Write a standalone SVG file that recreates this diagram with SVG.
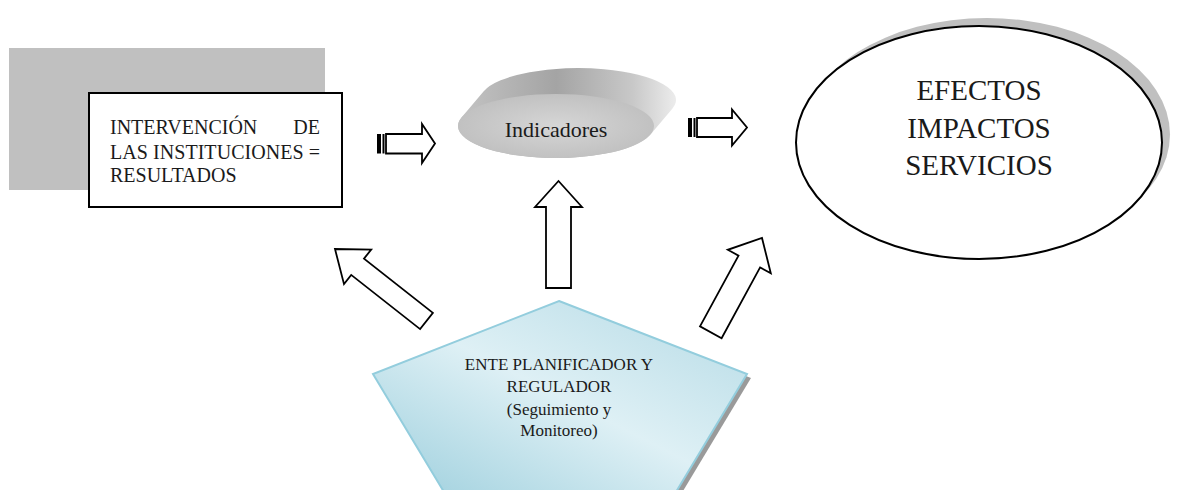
<svg xmlns="http://www.w3.org/2000/svg" width="1179" height="490" viewBox="0 0 1179 490">
  <defs>
    <radialGradient id="gFront" cx="0.5" cy="0.5" r="0.6">
      <stop offset="0" stop-color="#d6d6d6"/>
      <stop offset="1" stop-color="#bdbdbd"/>
    </radialGradient>
    <linearGradient id="gBack" x1="0" y1="0" x2="1" y2="0">
      <stop offset="0" stop-color="#c4c4c4"/>
      <stop offset="0.45" stop-color="#a4a4a4"/>
      <stop offset="0.8" stop-color="#c8c8c8"/>
      <stop offset="1" stop-color="#ececec"/>
    </linearGradient>
    <linearGradient id="gPent" x1="0" y1="1" x2="1" y2="0">
      <stop offset="0" stop-color="#9dcfdd"/>
      <stop offset="0.5" stop-color="#def0f5"/>
      <stop offset="1" stop-color="#b4dae5"/>
    </linearGradient>
    <style>
      .serif { font-family: "Liberation Serif", "DejaVu Serif", serif; fill: #1a1a1a; }
      .arrow { fill: #ffffff; stroke: #000000; stroke-width: 1.8; stroke-linejoin: miter; }
      .bar { fill: #000000; }
    </style>
  </defs>

  <g id="node-intervencion">
    <rect x="9" y="48" width="316" height="142" fill="#c0c0c0"/>
    <rect x="89" y="93" width="253" height="114" fill="#ffffff" stroke="#000000" stroke-width="2"/>
    <text class="serif" font-size="20" x="110" y="134">INTERVENCIÓN</text>
    <text class="serif" font-size="20" x="320" y="134" text-anchor="end">DE</text>
    <text class="serif" font-size="20" x="110" y="159" textLength="210" lengthAdjust="spacing">LAS INSTITUCIONES =</text>
    <text class="serif" font-size="20" x="110" y="182">RESULTADOS</text>
  </g>

  <g id="node-indicadores">
    <path d="M461.5,117.5 L483.5,91.5 A98,32 0 0 1 672.5,108.5 L650.5,134.5 A98,32 0 0 1 461.5,117.5 Z" fill="url(#gBack)"/>
    <ellipse cx="556" cy="126" rx="98" ry="32" fill="url(#gFront)"/>
    <text class="serif" font-size="22" x="556" y="137" text-anchor="middle" fill="#2a2a2a">Indicadores</text>
  </g>

  <g id="node-efectos">
    <ellipse cx="987" cy="134.5" rx="183" ry="116.5" fill="#c0c0c0"/>
    <ellipse cx="979" cy="142.5" rx="183" ry="116.5" fill="#ffffff" stroke="#000000" stroke-width="2"/>
    <text class="serif" font-size="29" x="979" y="100" text-anchor="middle">EFECTOS</text>
    <text class="serif" font-size="29" x="979" y="138" text-anchor="middle">IMPACTOS</text>
    <text class="serif" font-size="29" x="979" y="175" text-anchor="middle">SERVICIOS</text>
  </g>

  <g id="node-ente">
    <polygon points="562,305 751,378 680,496 447,496 376,378" fill="#9a9a9a"/>
    <polygon points="559,301 747,374 676,492 444,492 373,374" fill="url(#gPent)" stroke="#93cddd" stroke-width="2"/>
    <text class="serif" font-size="17" x="559" y="370" text-anchor="middle">ENTE PLANIFICADOR Y</text>
    <text class="serif" font-size="17" x="559" y="392" text-anchor="middle">REGULADOR</text>
    <text class="serif" font-size="17" x="559" y="415" text-anchor="middle">(Seguimiento y</text>
    <text class="serif" font-size="17" x="559" y="436" text-anchor="middle">Monitoreo)</text>
  </g>

  <g id="connectors">
    <rect class="bar" x="377" y="134" width="4" height="19.5"/>
    <rect class="bar" x="382.5" y="134" width="2" height="19.5"/>
    <polygon class="arrow" points="386,134 422,134 422,124 435,143.5 422,163 422,153.5 386,153.5"/>
    <rect class="bar" x="688" y="118" width="4" height="19"/>
    <rect class="bar" x="693.5" y="118" width="2" height="19"/>
    <polygon class="arrow" points="697,118 732,118 732,109.5 747,127.5 732,145.5 732,137 697,137"/>
    <polygon class="arrow" points="546,288 546,207 535,207 558.5,181 582,207 571,207 571,288"/>
    <polygon class="arrow" points="432.9,312.9 364,258.7 371.2,249.5 335,249 344,284.1 351.2,274.9 420.1,329.1"/>
    <polygon class="arrow" points="700,326.4 738.5,255.6 727.8,249.8 762,238 770.8,273.2 760.1,267.4 721.6,338.2"/>
  </g>
</svg>
